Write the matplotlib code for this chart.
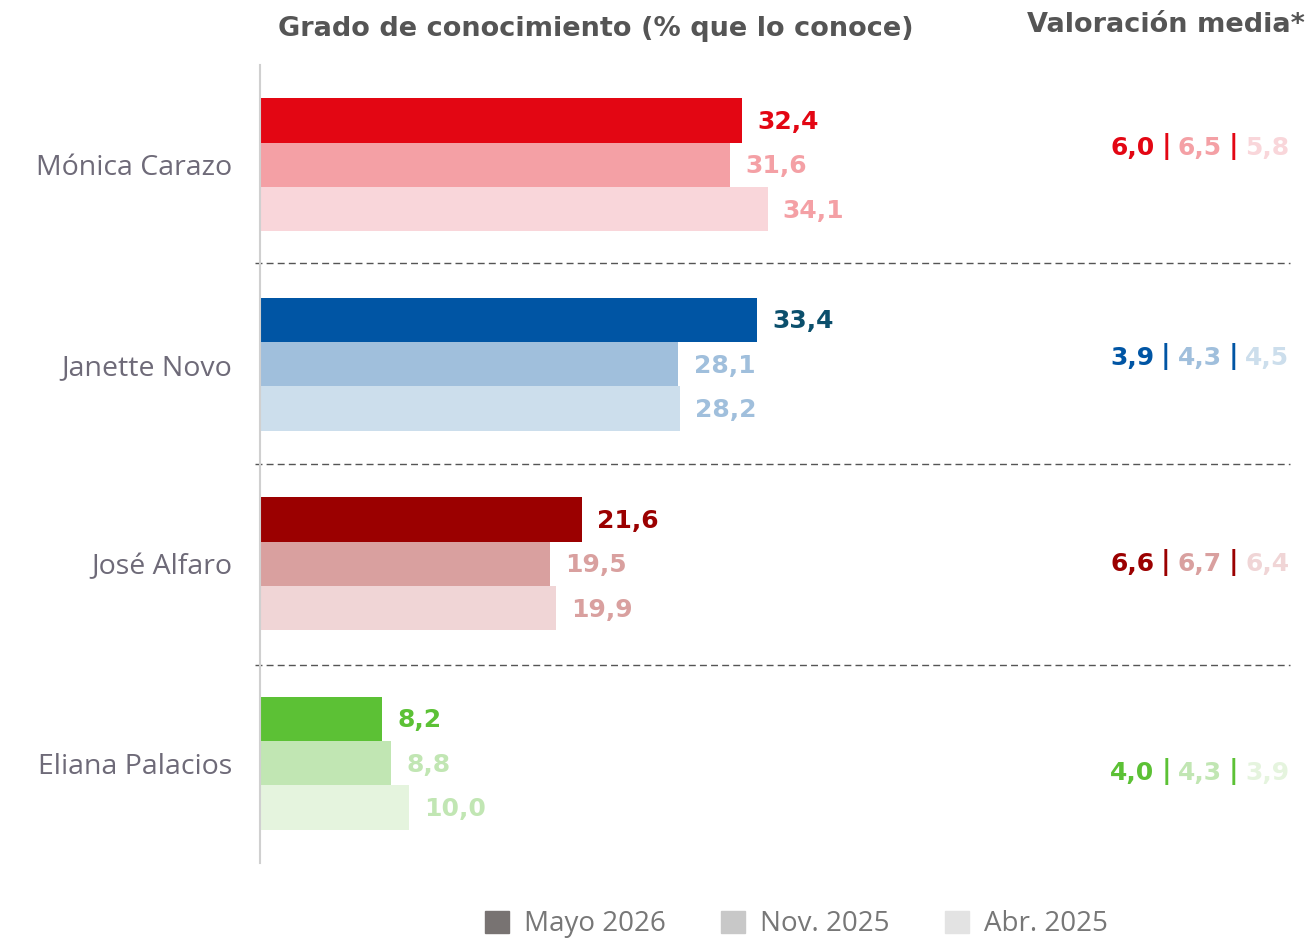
import matplotlib.pyplot as plt
from matplotlib.patches import Patch
import numpy as np

plt.rcParams['font.family'] = ['Open Sans', 'DejaVu Sans']
BOLD = ['DejaVu Sans']

names = ['Mónica Carazo', 'Janette Novo', 'José Alfaro', 'Eliana Palacios']
periods = ['Mayo 2026', 'Nov. 2025', 'Abr. 2025']
# grado de conocimiento (%) per candidate: [mayo 2026, nov 2025, abr 2025]
conoc = [
    [32.4, 31.6, 34.1],
    [33.4, 28.1, 28.2],
    [21.6, 19.5, 19.9],
    [8.2, 8.8, 10.0],
]
# valoración media per candidate: [mayo 2026, nov 2025, abr 2025]
valor = [
    [6.0, 6.5, 5.8],
    [3.9, 4.3, 4.5],
    [6.6, 6.7, 6.4],
    [4.0, 4.3, 3.9],
]

bar_colors = [
    ['#E30613', '#F4A0A5', '#F9D6DA'],
    ['#0055A4', '#A0BFDC', '#CCDEEC'],
    ['#9B0000', '#D9A09F', '#F0D5D6'],
    ['#5CC135', '#C1E6B3', '#E5F4DE'],
]
label_colors = [
    ['#E30613', '#F4A0A5', '#F4A0A5'],
    ['#0B4F6C', '#A0BFDC', '#A0BFDC'],
    ['#9B0000', '#D9A09F', '#D9A09F'],
    ['#5CC135', '#C1E6B3', '#C1E6B3'],
]
legend_colors = ['#787372', '#C8C8C8', '#E3E3E3']
val_offsets = [-0.085, -0.03, 0.0, 0.05]


def fmt(v):
    return f'{v:.1f}'.replace('.', ',')


fig = plt.figure(figsize=(13.09, 9.39), dpi=100)
ax = fig.add_axes([260 / 1309, 1 - 863 / 939, 1030 / 1309, (863 - 65) / 939])

h = 0.223
for i in range(len(names)):
    for j in range(3):
        y = i + (j - 1) * h
        ax.barh(y, conoc[i][j], height=h, color=bar_colors[i][j], linewidth=0)
        ax.annotate(fmt(conoc[i][j]), (conoc[i][j], y), xytext=(11, -1),
                    textcoords='offset points', va='center', ha='left',
                    fontsize=18, fontweight='bold', family=BOLD,
                    color=label_colors[i][j])

for s in [0.49, 1.5, 2.51]:
    ax.axhline(s, xmin=-0.005, xmax=1, color='#555555', lw=1,
               ls=(0, (5, 3)), clip_on=False)

ax.set_xlim(0, 69.2)
ax.set_ylim(3.5, -0.5)
ax.set_yticks(range(len(names)))
ax.set_yticklabels(names, fontsize=20.5, color='#6E6A78')
ax.tick_params(axis='y', length=0, pad=20)
ax.set_xticks([])
for sp in ['top', 'right', 'bottom']:
    ax.spines[sp].set_visible(False)
ax.spines['left'].set_color('#D0D0D0')
ax.spines['left'].set_linewidth(1.5)

# valoración media, multi-coloured strings
x0 = (1110 - 260) / 1030
for i in range(len(names)):
    y_ax = 1 - (i + 0.5 + val_offsets[i]) / 4
    prev = ax.text(x0, y_ax, fmt(valor[i][0]),
                   transform=ax.transAxes, va='center', ha='left',
                   fontsize=18, fontweight='bold', family=BOLD,
                   color=bar_colors[i][0])
    for j in [1, 2]:
        sep = ax.annotate('|', xy=(1, 0.5), xycoords=prev, xytext=(5, 1),
                          textcoords='offset points', va='center', ha='left',
                          fontsize=19, fontweight='heavy', family=BOLD,
                          color=bar_colors[i][0])
        prev = ax.annotate(fmt(valor[i][j]), xy=(1, 0.5), xycoords=sep,
                           xytext=(5, -1), textcoords='offset points',
                           va='center', ha='left', fontsize=18,
                           fontweight='bold', family=BOLD,
                           color=bar_colors[i][j])

fig.text(596 / 1309, 1 - 29 / 939, 'Grado de conocimiento (% que lo conoce)',
         ha='center', va='center', fontsize=19.5, fontweight='bold',
         family=BOLD, color='#555555')
fig.text(1305 / 1309, 1 - 25 / 939, 'Valoración media*',
         ha='right', va='center', fontsize=19.5, fontweight='bold',
         family=BOLD, color='#555555')

handles = [Patch(color=c, label=p) for c, p in zip(legend_colors, periods)]
fig.legend(handles=handles, loc='lower center', bbox_to_anchor=(0.6085, -0.026),
           ncol=3, frameon=False, handlelength=0.85, handleheight=0.85,
           columnspacing=2.0, handletextpad=0.55,
           prop={'size': 20}, labelcolor='#777777')

fig.savefig('out.png', dpi=100)
